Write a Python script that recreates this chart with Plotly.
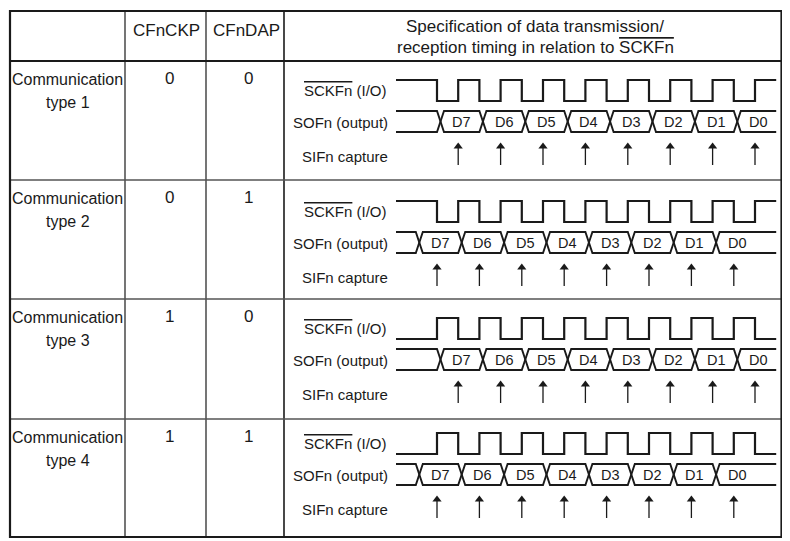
import plotly.graph_objects as go

# ---------------- data ----------------
row_title = "Communication"
type_names = ["type 1", "type 2", "type 3", "type 4"]
cfnckp = [0, 0, 1, 1]
cfndap = [0, 1, 0, 1]
data_bits = ["D7", "D6", "D5", "D4", "D3", "D2", "D1", "D0"]
header_labels = ["CFnCKP", "CFnDAP"]
spec_title = ["Specification of data transmission/",
              'reception timing in relation to <span style="text-decoration:overline">SCKFn</span>']
signal_names = ['<span style="text-decoration:overline">SCKFn</span> (I/O)',
                "SOFn (output)", "SIFn capture"]

# ---------------- layout geometry (page pixels) ----------------
W, H = 790, 541
PAGE_OFF = 8                         # default body margin of the html page
X_L, X_C1, X_C2, X_C3, X_R = 10, 125, 206, 284, 781.5
Y_T, Y_H, Y_B = 11, 61, 537
ROW_TOPS = [61, 180, 299, 419]
WAVE_Y0 = [80, 201, 318, 433]       # clock "high" level per row
T0_X, PERIOD = 437.0, 42.4           # x of first clock edge, clock period
X_START = 396.0
T_END = 8.0
XW = 7.0                             # width of a data transition
FONT = "Liberation Sans, Arial, Helvetica, sans-serif"
INK = "#1a1a1a"


def tx(t):
    return T0_X + PERIOD * t


fig = go.Figure()
ann = []
shapes = []

# ---------------- table lines ----------------
def hline(y, x0, x1, w=1.0, c=INK):
    shapes.append(dict(type="line", xref="x", yref="y", x0=x0, x1=x1, y0=y, y1=y,
                       line=dict(color=c, width=w)))


def vline(x, y0, y1, w=1.0, c=INK):
    shapes.append(dict(type="line", xref="x", yref="y", x0=x, x1=x, y0=y0, y1=y1,
                       line=dict(color=c, width=w)))


vline(X_C1, Y_T, Y_B, 1.2)
vline(X_C2, Y_T, Y_B, 1.2)
vline(X_C3, Y_T, Y_B, 1.6)
hline(Y_H, X_L, X_R, 2.0)
for yt in ROW_TOPS[1:]:
    hline(yt, X_L, X_R, 1.5, "#555555")
shapes.append(dict(type="rect", xref="x", yref="y", x0=X_L, x1=X_R, y0=Y_T, y1=Y_B,
                   line=dict(color=INK, width=2.2)))

# ---------------- header ----------------
for lab, xc in zip(header_labels, [(X_C1 + X_C2) / 2 + 1, (X_C2 + X_C3) / 2 + 1]):
    ann.append(dict(x=xc, y=30, text=lab, font=dict(size=17, color=INK, family=FONT)))
ann.append(dict(x=535, y=26, text=spec_title[0], font=dict(size=17, color=INK, family=FONT)))
ann.append(dict(x=535, y=47, text=spec_title[1], font=dict(size=17, color=INK, family=FONT)))

# ---------------- rows ----------------
for i in range(4):
    top = ROW_TOPS[i]
    y0 = WAVE_Y0[i]
    ann.append(dict(x=(X_L + X_C1) / 2, y=top + 18, text=row_title,
                    font=dict(size=16, color=INK, family=FONT)))
    ann.append(dict(x=(X_L + X_C1) / 2, y=top + 41, text=type_names[i],
                    font=dict(size=16, color=INK, family=FONT)))
    ann.append(dict(x=169, y=top + 17, text=str(cfnckp[i]),
                    font=dict(size=17, color=INK, family=FONT)))
    ann.append(dict(x=248, y=top + 17, text=str(cfndap[i]),
                    font=dict(size=17, color=INK, family=FONT)))

    # signal labels
    ann.append(dict(x=389, y=y0 + 10, text=signal_names[0], xanchor="right",
                    font=dict(size=15, color=INK, family=FONT)))
    ann.append(dict(x=390, y=y0 + 42, text=signal_names[1], xanchor="right",
                    font=dict(size=15, color=INK, family=FONT)))
    ann.append(dict(x=300, y=y0 + 76, text=signal_names[2], xanchor="left",
                    font=dict(size=15, color=INK, family=FONT)))

    # clock waveform
    hi, lo = y0, y0 + 21
    idle, active = (hi, lo) if cfnckp[i] == 0 else (lo, hi)
    cx, cy = [X_START], [idle]
    for k in range(len(data_bits)):
        cx += [tx(k), tx(k), tx(k + 0.5), tx(k + 0.5)]
        cy += [idle, active, active, idle]
    cx.append(tx(T_END))
    cy.append(idle)
    fig.add_trace(go.Scatter(x=cx, y=cy, mode="lines",
                             line=dict(color=INK, width=2.2, shape="linear"),
                             hoverinfo="skip", showlegend=False))

    # data bus
    btop, bbot = y0 + 31, y0 + 52
    trans = [k - 0.5 * cfndap[i] for k in range(len(data_bits))]
    ax_, ay_ = [X_START], [btop]
    bx_, by_ = [X_START], [bbot]
    a_lvl, b_lvl = btop, bbot
    for t in trans:
        xe = tx(t)
        ax_ += [xe, xe + XW]
        bx_ += [xe, xe + XW]
        ay_ += [a_lvl, b_lvl]
        by_ += [b_lvl, a_lvl]
        a_lvl, b_lvl = b_lvl, a_lvl
    ax_.append(tx(T_END))
    ay_.append(a_lvl)
    bx_.append(tx(T_END))
    by_.append(b_lvl)
    for xs, ys in ((ax_, ay_), (bx_, by_)):
        fig.add_trace(go.Scatter(x=xs, y=ys, mode="lines",
                                 line=dict(color=INK, width=1.9),
                                 hoverinfo="skip", showlegend=False))
    for t, bit in zip(trans, data_bits):
        ann.append(dict(x=tx(t) + XW / 2 + PERIOD / 2, y=(btop + bbot) / 2 + 0.5, text=bit,
                        font=dict(size=14.5, color=INK, family=FONT)))

    # capture arrows
    cap = [k + 0.5 * (1 - cfndap[i]) for k in range(len(data_bits))]
    sx, sy, mx, my = [], [], [], []
    for t in cap:
        sx += [tx(t), tx(t), None]
        sy += [y0 + 68, y0 + 85, None]
        mx.append(tx(t))
        my.append(y0 + 66.5)
    fig.add_trace(go.Scatter(x=sx, y=sy, mode="lines", line=dict(color=INK, width=1.3),
                             hoverinfo="skip", showlegend=False))
    fig.add_trace(go.Scatter(x=mx, y=my, mode="markers",
                             marker=dict(symbol="triangle-up", size=8, color=INK,
                                         line=dict(width=0)),
                             hoverinfo="skip", showlegend=False))

for a in ann:
    a.setdefault("xref", "x")
    a.setdefault("yref", "y")
    a.setdefault("showarrow", False)
    a.setdefault("xanchor", "center")
    a.setdefault("yanchor", "middle")

fig.update_layout(
    width=W - PAGE_OFF, height=H - PAGE_OFF, autosize=False,
    margin=dict(l=0, r=0, t=0, b=0),
    paper_bgcolor="white", plot_bgcolor="white",
    xaxis=dict(range=[PAGE_OFF, W], visible=False, fixedrange=True),
    yaxis=dict(range=[H, PAGE_OFF], visible=False, fixedrange=True),
    shapes=shapes, annotations=ann, showlegend=False,
)
fig.write_html("out.html")
